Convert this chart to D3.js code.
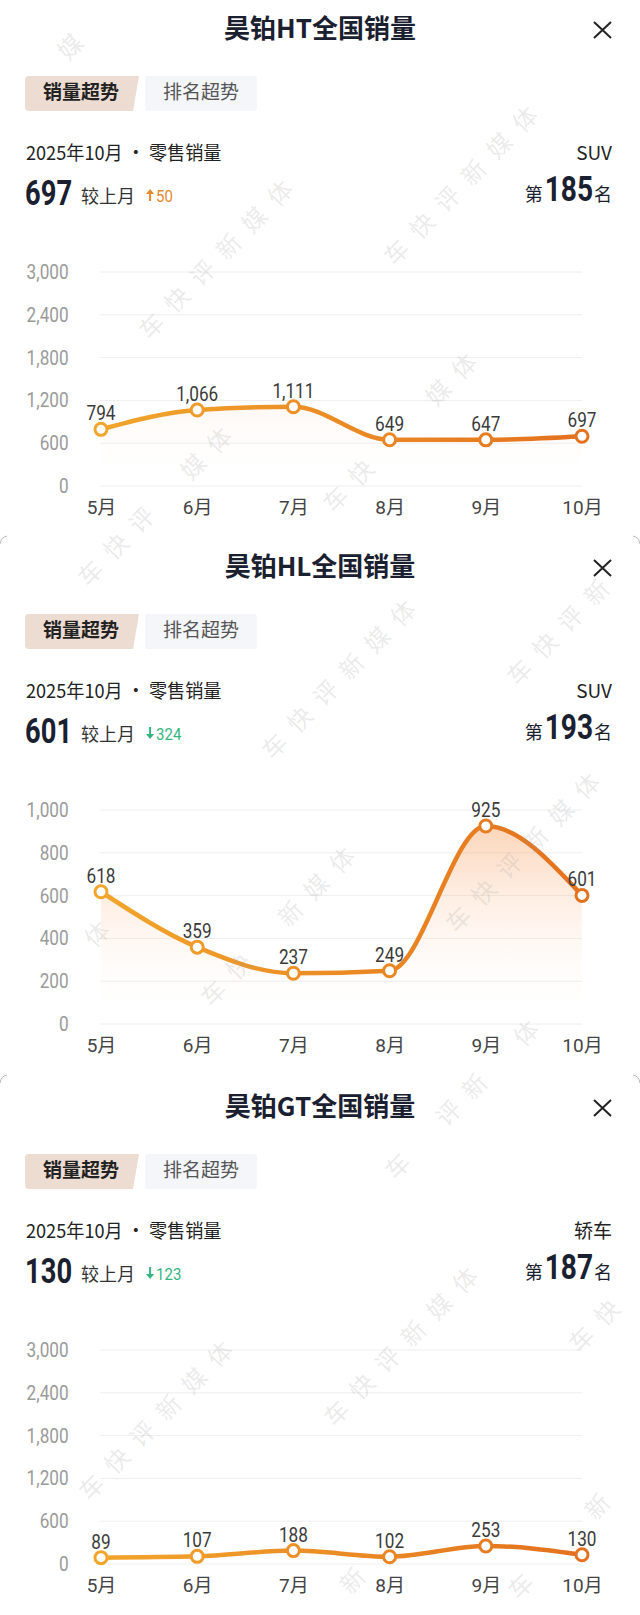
<!DOCTYPE html>
<html><head><meta charset="utf-8">
<script src="https://cdn.jsdelivr.net/npm/d3@7"></script>
<style>
html,body{margin:0;padding:0;background:#fff;}
svg{display:block;}
</style></head><body>
<svg id="c" width="640" height="1615"></svg>
<script>
// ---------- data ----------
const months = ["5月","6月","7月","8月","9月","10月"];
const titles = ["昊铂HT全国销量","昊铂HL全国销量","昊铂GT全国销量"];
const salesHT = [794,1066,1111,649,647,697];
const salesHL = [618,359,237,249,925,601];
const salesGT = [89,107,188,102,253,130];
const yTicksHT = [0,600,1200,1800,2400,3000];
const yTicksHL = [0,200,400,600,800,1000];
const yTicksGT = [0,600,1200,1800,2400,3000];
const currentValues = [697,601,130];
const monthChanges = [50,-324,-123];
const segments = ["SUV","SUV","轿车"];
const ranks = [185,193,187];
const periodLabel = "2025年10月 · 零售销量";
const compareLabel = "较上月";
const tabLabels = ["销量超势","排名超势"];
const watermark = "车快评新媒体";

// ---------- setup ----------
const CJK = '"Noto Sans CJK SC", sans-serif';
const NUM = 'Roboto, "Noto Sans CJK SC", sans-serif';
const svg = d3.select("#c");
const defs = svg.append("defs");

const lg = defs.append("linearGradient").attr("id","lineGrad")
  .attr("gradientUnits","userSpaceOnUse").attr("x1",101).attr("x2",582).attr("y1",0).attr("y2",0);
lg.append("stop").attr("offset","0").attr("stop-color","#f2a52c");
lg.append("stop").attr("offset","1").attr("stop-color","#e4711e");

const ag = defs.append("linearGradient").attr("id","areaGrad")
  .attr("gradientUnits","userSpaceOnUse").attr("x1",0).attr("x2",0).attr("y1",272).attr("y2",486);
ag.append("stop").attr("offset","0").attr("stop-color","#f58a3c").attr("stop-opacity",0.42);
ag.append("stop").attr("offset","1").attr("stop-color","#ffffff").attr("stop-opacity",0);

// condensed text helper (horizontal squeeze about the anchor point)
function cText(parent, x, y, sx, str, size, opts={}) {
  const gg = parent.append("g").attr("transform",`translate(${x},${y}) scale(${sx},1)`);
  const t = gg.append("text").attr("font-family",opts.family||CJK).attr("font-size",size)
    .attr("font-weight",opts.weight||400).attr("fill",opts.fill||"#222")
    .attr("text-anchor",opts.anchor||"start").text(str);
  return t.node().getComputedTextLength()*sx;
}

const panels = titles.map((t,i)=>({
  title:t,
  values:[salesHT,salesHL,salesGT][i],
  ticks:[yTicksHT,yTicksHL,yTicksGT][i],
  cur:currentValues[i], chg:monthChanges[i], seg:segments[i], rank:ranks[i]
}));
const offsets = [0,538,1078];

panels.forEach((p,i)=>{
  const g = svg.append("g").attr("transform",`translate(0,${offsets[i]})`);

  // title + close
  g.append("text").attr("x",320).attr("y",38).attr("text-anchor","middle")
    .attr("font-family",CJK).attr("font-weight",700).attr("font-size",26)
    .attr("fill","#1b2030").text(p.title);
  g.append("path").attr("d","M594,22L611,38M611,22L594,38")
    .attr("stroke","#222").attr("stroke-width",2).attr("fill","none");

  // tabs
  g.append("path").attr("d","M29,76 L139,76 L133,111 L29,111 Q25,111 25,107 L25,80 Q25,76 29,76Z")
    .attr("fill","#ecdcd1");
  g.append("rect").attr("x",145).attr("y",76).attr("width",112).attr("height",35).attr("rx",3)
    .attr("fill","#f4f6fa");
  g.append("text").attr("x",81).attr("y",99).attr("text-anchor","middle")
    .attr("font-family",CJK).attr("font-weight",700).attr("font-size",19).attr("fill","#222")
    .text(tabLabels[0]);
  g.append("text").attr("x",201).attr("y",99).attr("text-anchor","middle")
    .attr("font-family",CJK).attr("font-size",19).attr("fill","#555")
    .text(tabLabels[1]);

  // period + segment
  cText(g, 26, 160, 0.955, periodLabel, 19, {fill:"#222"});
  g.append("text").attr("x",612).attr("y",160).attr("text-anchor","end")
    .attr("font-family",CJK).attr("font-size",19).attr("fill","#222").text(p.seg);

  // big number + comparison
  const bw = cText(g, 25, 205, 0.76, p.cur, 36, {family:NUM, weight:700, fill:"#1b2030"});
  const cx = 25 + bw + 9;
  const cmp = g.append("text").attr("x",cx).attr("y",203).attr("font-family",CJK)
    .attr("font-size",18).attr("fill","#333").text(compareLabel);
  const ax = cx + cmp.node().getComputedTextLength() + 15;
  const up = p.chg >= 0;
  const col = up ? "#e8872c" : "#34b57f";
  if (up) {
    g.append("path").attr("d",`M${ax-4},${194} L${ax},${189} L${ax+4},${194} Z`).attr("fill",col);
    g.append("rect").attr("x",ax-1).attr("y",193).attr("width",2).attr("height",8).attr("fill",col);
  } else {
    g.append("rect").attr("x",ax-1).attr("y",189).attr("width",2).attr("height",8).attr("fill",col);
    g.append("path").attr("d",`M${ax-4},${196} L${ax},${201} L${ax+4},${196} Z`).attr("fill",col);
  }
  cText(g, ax+6, 202, 0.88, Math.abs(p.chg), 17, {family:NUM, fill:col});

  // rank: 第 185 名
  g.append("text").attr("x",612).attr("y",201).attr("text-anchor","end")
    .attr("font-family",CJK).attr("font-size",18).attr("fill","#1b2030").text("名");
  const rw = cText(g, 593, 201, 0.78, p.rank, 36, {family:NUM, weight:700, fill:"#1b2030", anchor:"end"});
  g.append("text").attr("x",593-rw-2).attr("y",201).attr("text-anchor","end")
    .attr("font-family",CJK).attr("font-size",18).attr("fill","#1b2030").text("第");

  // ---------- chart ----------
  const x = d3.scalePoint().domain(months).range([101,582]);
  const y = d3.scaleLinear().domain([0,d3.max(p.ticks)]).range([486,272]);

  g.append("g").selectAll("line").data(p.ticks).join("line")
    .attr("x1",100).attr("x2",582).attr("y1",d=>y(d)).attr("y2",d=>y(d))
    .attr("stroke","#eeeeee").attr("stroke-width",1);

  const ya = g.append("g").attr("transform","translate(100,0)")
    .call(d3.axisLeft(y).tickValues(p.ticks).tickSize(0).tickPadding(36.5).tickFormat(d3.format(",")));
  ya.select(".domain").remove();
  ya.selectAll("text").attr("font-family",NUM).attr("font-size",20).attr("fill","#9a9a9a")
    .attr("transform","scale(0.86,1)");

  const xa = g.append("g").attr("transform","translate(0,486)")
    .call(d3.axisBottom(x).tickSize(0).tickPadding(15));
  xa.select(".domain").remove();
  xa.selectAll("text").attr("font-family",NUM).attr("font-size",19).attr("fill","#444");

  const pts = months.map((m,k)=>({m, v:p.values[k]}));
  g.append("path").datum(pts)
    .attr("d",d3.area().x(d=>x(d.m)).y0(y(0)).y1(d=>y(d.v)).curve(d3.curveMonotoneX))
    .attr("fill","url(#areaGrad)");
  g.append("path").datum(pts)
    .attr("d",d3.line().x(d=>x(d.m)).y(d=>y(d.v)).curve(d3.curveMonotoneX))
    .attr("fill","none").attr("stroke","url(#lineGrad)").attr("stroke-width",4.5)
    .attr("stroke-linecap","round");
  g.append("g").selectAll("circle").data(pts).join("circle")
    .attr("cx",d=>x(d.m)).attr("cy",d=>y(d.v)).attr("r",6)
    .attr("fill","#fff").attr("stroke","url(#lineGrad)").attr("stroke-width",3);
  g.append("g").selectAll("g").data(pts).join("g")
    .attr("transform",d=>`translate(${x(d.m)},${y(d.v)-9}) scale(0.86,1)`)
    .append("text").attr("text-anchor","middle")
    .attr("font-family",NUM).attr("font-size",20).attr("fill","#3a3a3a")
    .text(d=>d3.format(",")(d.v));
});

// card corner marks
[537,1076].forEach(yy=>{
  svg.append("path").attr("d",`M0,${yy+7} Q1,${yy} 7,${yy-1}`).attr("fill","none").attr("stroke","#b8b8b8").attr("stroke-width",1);
  svg.append("path").attr("d",`M640,${yy+7} Q639,${yy} 633,${yy-1}`).attr("fill","none").attr("stroke","#b8b8b8").attr("stroke-width",1);
});

// watermark overlay (one glyph per element; glyphs at the page edge or on top of other text are skipped)
const svgBox = svg.node().getBoundingClientRect();
const textBoxes = [];
svg.selectAll("text").each(function(){
  const r = this.getBoundingClientRect();
  textBoxes.push([r.left-svgBox.left-2, r.top-svgBox.top-2, r.right-svgBox.left+2, r.bottom-svgBox.top+2]);
});
const wm = svg.append("g").attr("pointer-events","none");
const o = [216,260], a = [245,-74], b = [184,173];
const ang = -46*Math.PI/180, ux = Math.cos(ang), uy = Math.sin(ang), step = 37;
const chars = Array.from(watermark);
const half = 17, edge = 24;
for (let i=-4;i<=6;i++) for (let j=-3;j<=10;j++){
  const cx = o[0]+i*a[0]+j*b[0], cy = o[1]+i*a[1]+j*b[1];
  chars.forEach((ch,k)=>{
    const px = cx + (k-2.5)*step*ux, py = cy + (k-2.5)*step*uy;
    if (px<edge||px>640-edge||py<edge||py>1615-edge) return;
    const hit = textBoxes.some(bx => px+half>bx[0] && px-half<bx[2] && py+half>bx[1] && py-half<bx[3]);
    if (hit) return;
    wm.append("text").attr("transform",`translate(${px.toFixed(1)},${py.toFixed(1)}) rotate(-46)`)
      .attr("text-anchor","middle").attr("dy","0.35em")
      .attr("font-family",CJK).attr("font-size",24)
      .attr("fill","#999").attr("fill-opacity",0.2).text(ch);
  });
}
</script>
</body></html>
